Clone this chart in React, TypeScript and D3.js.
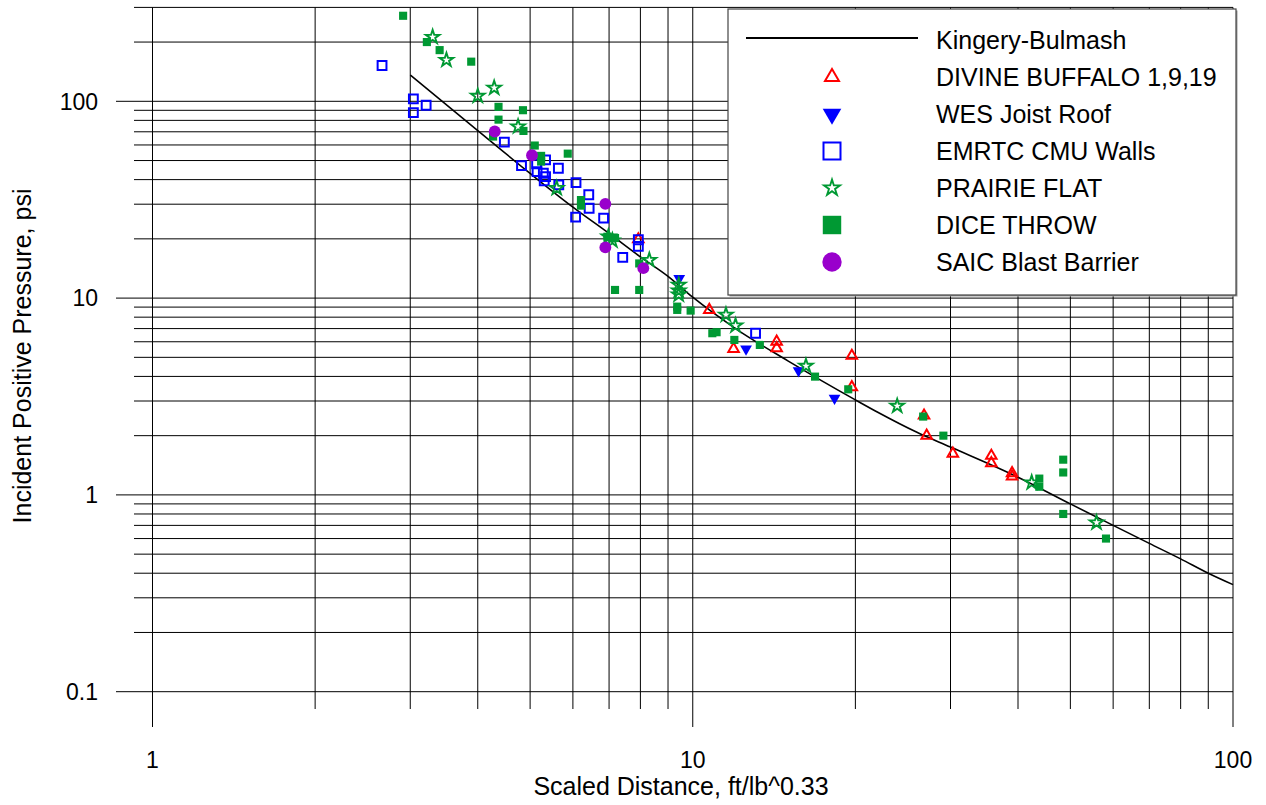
import React from "react";
import * as d3 from "d3";

// ---- Data (scaled distance ft/lb^0.33, incident pressure psi) ----
const kbZ = [3, 4, 5, 6, 7, 8, 9, 10, 12, 15, 20, 22, 26, 30, 40, 50, 60, 70, 80, 90, 100];
const kbP = [136, 71, 43, 29, 21.3, 16.2, 12.9, 10.1, 7.0, 4.8, 3.04, 2.63, 2.08, 1.75, 1.23, 0.9, 0.7, 0.567, 0.473, 0.4, 0.35];

const divineX = [7.93, 10.73, 11.9, 14.3, 14.3, 19.7, 19.7, 26.8, 27.1, 30.3, 35.7, 35.7, 39.0, 39.0];
const divineY = [19.9, 8.71, 5.52, 6.01, 5.57, 5.09, 3.53, 2.53, 2.0, 1.62, 1.58, 1.45, 1.29, 1.24];

const wesX = [9.44, 12.55, 15.7, 18.3];
const wesY = [12.6, 5.52, 4.28, 3.1];

const emrtcX = [2.66, 3.04, 3.21, 3.04, 4.48, 4.82, 5.14, 5.15, 5.34, 5.29, 5.31, 5.34, 5.64, 5.65, 6.08, 6.42, 6.43, 6.07, 6.84, 7.93, 7.93, 7.42, 13.07];
const emrtcY = [152, 102.8, 95.5, 87.6, 62.0, 47.1, 48.1, 43.9, 50.4, 43.1, 39.4, 41.4, 45.7, 37.6, 38.6, 33.5, 28.6, 25.8, 25.5, 19.8, 18.3, 16.1, 6.63];

const prairieX = [3.3, 3.5, 4.29, 4.0, 4.75, 5.6, 6.98, 7.1, 8.31, 9.42, 9.42, 9.42, 11.52, 12.0, 16.2, 23.9, 42.4, 55.9];
const prairieY = [212, 162, 117, 106.5, 74.4, 36.2, 20.5, 19.6, 15.6, 11.67, 10.9, 10.4, 8.22, 7.25, 4.52, 2.83, 1.155, 0.723];

const diceX = [2.91, 3.22, 3.4, 3.89, 4.37, 4.85, 4.37, 4.86, 4.27, 5.1, 5.24, 5.24, 5.87, 6.21, 6.21, 7.18, 6.95, 7.18, 7.96, 7.96, 9.36, 9.36, 9.91, 10.87, 11.07, 11.94, 13.31, 16.84, 19.4, 26.7, 29.1, 43.8, 43.8, 48.5, 48.5, 48.5, 58.2];
const diceY = [272, 200, 182, 159, 93.7, 90.1, 80.7, 70.7, 66.2, 59.6, 52.8, 49.4, 54.2, 31.5, 29.5, 20.2, 20.5, 11.0, 11.0, 15.0, 9.05, 8.71, 8.64, 6.63, 6.71, 6.13, 5.78, 3.99, 3.44, 2.5, 2.0, 1.21, 1.1, 1.51, 1.3, 0.8, 0.6];

const saicX = [4.3, 5.04, 6.89, 6.89, 8.1];
const saicY = [70.2, 53.2, 30.1, 18.1, 14.2];

const xTickLabels = ["1", "10", "100"];
const yTickLabels = ["0.1", "1", "10", "100"];

const legendLabels = [
  "Kingery-Bulmash",
  "DIVINE BUFFALO 1,9,19",
  "WES Joist Roof",
  "EMRTC CMU Walls",
  "PRAIRIE FLAT",
  "DICE THROW",
  "SAIC Blast Barrier",
];

const GREEN = "#009933";
const FONT = "'Liberation Sans', Arial, sans-serif";

type Marker = {
  key: string;
  xs: number[];
  ys: number[];
  type: d3.SymbolType;
  size: number;
  legendSize: number;
  fill: string;
  stroke: string;
  sw: number;
  rotate?: number;
};

const series: Marker[] = [
  { key: "divine", xs: divineX, ys: divineY, type: d3.symbolTriangle, size: 48, legendSize: 85, fill: "none", stroke: "#ff0000", sw: 2 },
  { key: "wes", xs: wesX, ys: wesY, type: d3.symbolTriangle, size: 60, legendSize: 150, fill: "#0000ff", stroke: "none", sw: 0, rotate: 180 },
  { key: "emrtc", xs: emrtcX, ys: emrtcY, type: d3.symbolSquare, size: 78, legendSize: 289, fill: "none", stroke: "#0000ff", sw: 2 },
  { key: "prairie", xs: prairieX, ys: prairieY, type: d3.symbolStar, size: 58, legendSize: 78, fill: "none", stroke: GREEN, sw: 1.9 },
  { key: "dice", xs: diceX, ys: diceY, type: d3.symbolSquare, size: 66, legendSize: 340, fill: GREEN, stroke: "none", sw: 0 },
  { key: "saic", xs: saicX, ys: saicY, type: d3.symbolCircle, size: 110, legendSize: 295, fill: "#9900cc", stroke: "none", sw: 0 },
];

export default function App() {
  const W = 1266;
  const H = 805;
  const x = d3.scaleLog().domain([1, 100]).range([152.5, 1233]);
  const y = d3.scaleLog().domain([0.1, 300]).range([691.7, 7.4]);

  const xGrid: number[] = [];
  for (const dec of [1, 10]) for (let k = 1; k <= 9; k++) xGrid.push(k * dec);
  xGrid.push(100);
  const yGrid: number[] = [];
  for (const dec of [0.1, 1, 10]) for (let k = 1; k <= 9; k++) yGrid.push(+(k * dec).toPrecision(3));
  yGrid.push(100, 200, 300);

  const isMajor = (v: number) => Math.abs(Math.log10(v) - Math.round(Math.log10(v))) < 1e-9;

  const kbData = kbZ.map((z, i) => [z, kbP[i]] as [number, number]);
  const kbLine = d3
    .line<[number, number]>()
    .x((d) => x(d[0]))
    .y((d) => y(d[1]))
    .curve(d3.curveMonotoneX);

  const legX = 728, legY = 9, legW = 508, legH = 286;
  const rowY = (i: number) => 40 + i * 37;

  return (
    <svg width={W} height={H} style={{ position: "absolute", left: 0, top: 0, background: "#fff" }} fontFamily={FONT}>
      <rect x={0} y={0} width={W} height={H} fill="#fff" />
      {/* grid */}
      <g stroke="#000" strokeWidth={1}>
        {xGrid.map((v) => (
          <line key={"gx" + v} x1={x(v)} x2={x(v)} y1={y(300)} y2={isMajor(v) ? 727 : 709} />
        ))}
        {yGrid.map((v) => (
          <line key={"gy" + v} x1={isMajor(v) ? 116 : 134} x2={x(100)} y1={y(v)} y2={y(v)} />
        ))}
      </g>
      {/* tick labels */}
      <g fontSize={23} fill="#000">
        {xTickLabels.map((t) => (
          <text key={"xt" + t} x={x(+t)} y={768} textAnchor="middle">
            {t}
          </text>
        ))}
        {yTickLabels.map((t) => (
          <text key={"yt" + t} x={98} y={y(+t)} dy="0.36em" textAnchor="end">
            {t}
          </text>
        ))}
      </g>
      {/* axis titles */}
      <text x={681} y={795} textAnchor="middle" fontSize={25} fill="#000">
        Scaled Distance, ft/lb^0.33
      </text>
      <text transform="translate(31,356) rotate(-90)" textAnchor="middle" fontSize={25} fill="#000">
        Incident Positive Pressure, psi
      </text>
      {/* KB curve */}
      <path d={kbLine(kbData) || ""} fill="none" stroke="#000" strokeWidth={1.6} />
      {/* markers */}
      {series.map((s) => {
        const p = d3.symbol().type(s.type).size(s.size)() || "";
        return (
          <g key={s.key}>
            {s.xs.map((xv, i) => (
              <path
                key={i}
                d={p}
                transform={`translate(${x(xv)},${y(s.ys[i])})${s.rotate ? ` rotate(${s.rotate})` : ""}`}
                fill={s.fill}
                stroke={s.stroke}
                strokeWidth={s.sw}
              />
            ))}
          </g>
        );
      })}
      {/* legend */}
      <rect x={legX + 1.5} y={legY + 1.5} width={legW} height={legH} fill="#999" />
      <rect x={legX} y={legY} width={legW} height={legH} fill="#fff" stroke="#444" strokeWidth={1.2} />
      <line x1={746} x2={918} y1={rowY(0) - 2} y2={rowY(0) - 2} stroke="#000" strokeWidth={2} />
      {series.map((s, i) => {
        const p = d3.symbol().type(s.type).size(s.legendSize)() || "";
        return (
          <path
            key={"lg" + s.key}
            d={p}
            transform={`translate(832,${rowY(i + 1)})${s.rotate ? ` rotate(${s.rotate})` : ""}`}
            fill={s.fill}
            stroke={s.stroke}
            strokeWidth={s.sw}
          />
        );
      })}
      {legendLabels.map((t, i) => (
        <text key={"lt" + i} x={936} y={rowY(i)} dy="0.35em" fontSize={25} fill="#000">
          {t}
        </text>
      ))}
    </svg>
  );
}
